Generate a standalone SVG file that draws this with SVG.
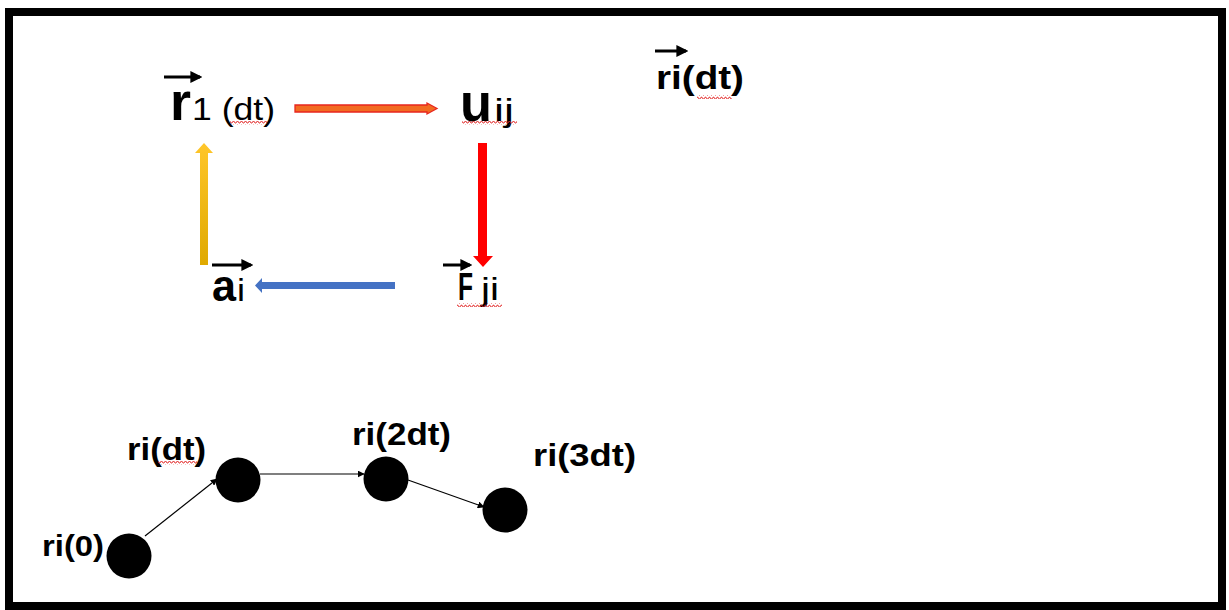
<svg xmlns="http://www.w3.org/2000/svg" width="1229" height="610" viewBox="0 0 1229 610">
  <style>
    .b { font-family: "Liberation Sans", Arial, sans-serif; font-weight: bold; fill: #000; }
    .n { font-family: "Liberation Sans", Arial, sans-serif; font-weight: normal; }
    .vec { stroke: #000; stroke-width: 3; fill: none; }
    .thin { stroke: #000; stroke-width: 1.2; fill: none; marker-end: url(#ah); }
    .sq { fill: url(#wave); }
  </style>
  <defs>
    <marker id="ah" viewBox="0 0 10 10" refX="9" refY="5" markerWidth="7" markerHeight="7" markerUnits="userSpaceOnUse" orient="auto">
      <path d="M0 0 L10 5 L0 10 Z" fill="#000"/>
    </marker>
    <marker id="vh" viewBox="0 0 10 10" refX="8" refY="5" markerWidth="4" markerHeight="4" orient="auto">
      <path d="M0 0 L10 5 L0 10 Z" fill="#000"/>
    </marker>
    <pattern id="wave" width="4" height="4" patternUnits="userSpaceOnUse">
      <path d="M0 3 L1 1.2 L2 1.2 L3 3 L4 3" stroke="#E02020" stroke-width="0.9" fill="none"/>
    </pattern>
    <linearGradient id="yel" x1="0" y1="0" x2="0" y2="1">
      <stop offset="0" stop-color="#FFC62A"/>
      <stop offset="1" stop-color="#DFA900"/>
    </linearGradient>
  </defs>

  <rect x="9" y="12" width="1213" height="594" fill="#fff" stroke="#000" stroke-width="8"/>

  <g id="node-r1dt">
    <line class="vec" x1="164" y1="77" x2="200" y2="77" marker-end="url(#vh)"/>
    <text class="b" y="120" font-size="54"><tspan x="170" textLength="21" lengthAdjust="spacingAndGlyphs">r</tspan><tspan class="n" x="192" font-size="32" textLength="83" lengthAdjust="spacingAndGlyphs">1 (dt)</tspan></text>
    <rect class="sq" x="230" y="121" width="37" height="4"/>
  </g>

  <g id="node-uij">
    <text class="b" y="121" font-size="54"><tspan x="460" textLength="32" lengthAdjust="spacingAndGlyphs">u</tspan><tspan class="n" x="494" font-size="32" textLength="20" lengthAdjust="spacingAndGlyphs">ij</tspan></text>
    <rect class="sq" x="462" y="121" width="55" height="4"/>
  </g>

  <g id="node-fji">
    <line class="vec" x1="443" y1="265" x2="470" y2="265" marker-end="url(#vh)"/>
    <text class="b" y="300" font-size="38"><tspan x="458" textLength="15" lengthAdjust="spacingAndGlyphs">F</tspan><tspan class="n" x="481" font-size="32" textLength="18" lengthAdjust="spacingAndGlyphs">ji</tspan></text>
    <rect class="sq" x="457" y="303" width="45" height="4"/>
  </g>

  <g id="node-ai">
    <line class="vec" x1="212" y1="265" x2="251" y2="265" marker-end="url(#vh)"/>
    <text class="b" y="301" font-size="44"><tspan x="212" textLength="24" lengthAdjust="spacingAndGlyphs">a</tspan><tspan class="n" x="237" font-size="32" textLength="8" lengthAdjust="spacingAndGlyphs">i</tspan></text>
  </g>

  <g id="node-ridt-top">
    <line class="vec" x1="655" y1="51" x2="686" y2="51" marker-end="url(#vh)"/>
    <text class="b" x="656" y="89" font-size="34" textLength="88" lengthAdjust="spacingAndGlyphs">ri(dt)</text>
    <rect class="sq" x="697" y="95" width="35" height="4"/>
  </g>

  <g id="node-ri0">
    <circle cx="129" cy="556" r="22.5" fill="#000"/>
    <text class="b" x="42" y="556" font-size="30" textLength="62" lengthAdjust="spacingAndGlyphs">ri(0)</text>
  </g>
  <g id="node-ridt">
    <circle cx="238" cy="480" r="22.5" fill="#000"/>
    <text class="b" x="127" y="460" font-size="31" textLength="79" lengthAdjust="spacingAndGlyphs">ri(dt)</text>
    <rect class="sq" x="158" y="461" width="39" height="4"/>
  </g>
  <g id="node-ri2dt">
    <circle cx="386" cy="479" r="22.5" fill="#000"/>
    <text class="b" x="352" y="445" font-size="32" textLength="99" lengthAdjust="spacingAndGlyphs">ri(2dt)</text>
  </g>
  <g id="node-ri3dt">
    <circle cx="505" cy="510" r="22.5" fill="#000"/>
    <text class="b" x="533" y="466" font-size="32" textLength="103" lengthAdjust="spacingAndGlyphs">ri(3dt)</text>
  </g>

  <g id="connectors">
    <polygon points="295,105 427,105 427,103 437,108.5 427,114 427,112 295,112" fill="#F26B21" stroke="#E8261E" stroke-width="1.3"/>
    <polygon points="478,143 487,143 487,256 493,256 483,267 473,256 478,256" fill="#FF0000"/>
    <polygon points="395,282 262,282 262,278 255,285.5 262,293 262,289 395,289" fill="#4472C4"/>
    <polygon points="200,265 200,153 195,153 204,143 213,153 208,153 208,265" fill="url(#yel)"/>
    <line class="thin" x1="145" y1="536" x2="217" y2="479"/>
    <line class="thin" x1="260" y1="474" x2="364" y2="474"/>
    <line class="thin" x1="408" y1="480" x2="484" y2="507"/>
  </g>
</svg>
